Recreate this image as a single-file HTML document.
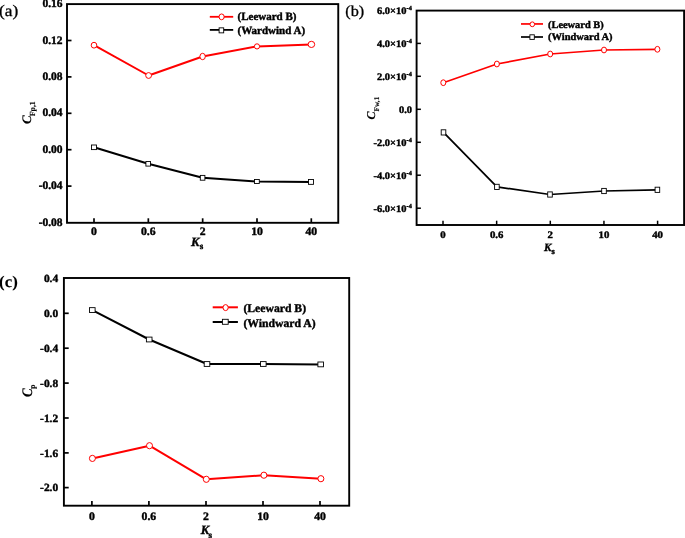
<!DOCTYPE html>
<html><head><meta charset="utf-8"><style>
html,body{margin:0;padding:0;background:#fff;}
svg{display:block;font-family:"Liberation Serif", serif;will-change:transform;text-rendering:geometricPrecision;}
</style></head><body>
<svg width="685" height="538" viewBox="0 0 685 538" shape-rendering="auto">
<rect width="685" height="538" fill="#fff"/>
<rect x="67" y="4.1" width="271.25" height="218.70000000000002" fill="none" stroke="#000" stroke-width="1.9"/>
<text x="62.6" y="7.1" font-size="11.5" text-anchor="end" font-weight="bold" font-style="normal"  stroke="#000" stroke-width="0.4">0.16</text>
<line x1="67" y1="40.5" x2="71.5" y2="40.5" stroke="#000" stroke-width="1.7"/>
<text x="62.6" y="43.5" font-size="11.5" text-anchor="end" font-weight="bold" font-style="normal"  stroke="#000" stroke-width="0.4">0.12</text>
<line x1="67" y1="76.9" x2="71.5" y2="76.9" stroke="#000" stroke-width="1.7"/>
<text x="62.6" y="79.9" font-size="11.5" text-anchor="end" font-weight="bold" font-style="normal"  stroke="#000" stroke-width="0.4">0.08</text>
<line x1="67" y1="113.3" x2="71.5" y2="113.3" stroke="#000" stroke-width="1.7"/>
<text x="62.6" y="116.3" font-size="11.5" text-anchor="end" font-weight="bold" font-style="normal"  stroke="#000" stroke-width="0.4">0.04</text>
<line x1="67" y1="149.7" x2="71.5" y2="149.7" stroke="#000" stroke-width="1.7"/>
<text x="62.6" y="152.7" font-size="11.5" text-anchor="end" font-weight="bold" font-style="normal"  stroke="#000" stroke-width="0.4">0.00</text>
<line x1="67" y1="186.1" x2="71.5" y2="186.1" stroke="#000" stroke-width="1.7"/>
<text x="62.6" y="189.1" font-size="11.5" text-anchor="end" font-weight="bold" font-style="normal"  stroke="#000" stroke-width="0.4">-0.04</text>
<text x="62.6" y="225.5" font-size="11.5" text-anchor="end" font-weight="bold" font-style="normal"  stroke="#000" stroke-width="0.4">-0.08</text>
<line x1="94" y1="222.8" x2="94" y2="218.3" stroke="#000" stroke-width="1.7"/>
<text transform="translate(94,234.9) scale(1.02,1.0)" x="0" y="0" font-size="11.5" text-anchor="middle" font-weight="bold" font-style="normal"  stroke="#000" stroke-width="0.4">0</text>
<line x1="148.33" y1="222.8" x2="148.33" y2="218.3" stroke="#000" stroke-width="1.7"/>
<text transform="translate(148.33,234.9) scale(1.02,1.0)" x="0" y="0" font-size="11.5" text-anchor="middle" font-weight="bold" font-style="normal"  stroke="#000" stroke-width="0.4">0.6</text>
<line x1="202.66" y1="222.8" x2="202.66" y2="218.3" stroke="#000" stroke-width="1.7"/>
<text transform="translate(202.66,234.9) scale(1.02,1.0)" x="0" y="0" font-size="11.5" text-anchor="middle" font-weight="bold" font-style="normal"  stroke="#000" stroke-width="0.4">2</text>
<line x1="257" y1="222.8" x2="257" y2="218.3" stroke="#000" stroke-width="1.7"/>
<text transform="translate(257,234.9) scale(1.02,1.0)" x="0" y="0" font-size="11.5" text-anchor="middle" font-weight="bold" font-style="normal"  stroke="#000" stroke-width="0.4">10</text>
<line x1="311.3" y1="222.8" x2="311.3" y2="218.3" stroke="#000" stroke-width="1.7"/>
<text transform="translate(311.3,234.9) scale(1.02,1.0)" x="0" y="0" font-size="11.5" text-anchor="middle" font-weight="bold" font-style="normal"  stroke="#000" stroke-width="0.4">40</text>
<polyline points="94,45.2 148.6,75.5 202.6,56.5 257,46.4 311.4,44.4" fill="none" stroke="#ff0000" stroke-width="2" stroke-linejoin="round"/>
<polyline points="94,147.3 148.2,163.8 202.6,177.8 256.9,181.5 311,181.9" fill="none" stroke="#000" stroke-width="2" stroke-linejoin="round"/>
<ellipse cx="94" cy="45.2" rx="2.8" ry="2.9" fill="#fff" stroke="#f00" stroke-width="1.0"/>
<ellipse cx="148.6" cy="75.5" rx="2.9" ry="2.9" fill="#fff" stroke="#f00" stroke-width="1.0"/>
<ellipse cx="202.6" cy="56.5" rx="2.7" ry="3.2" fill="#fff" stroke="#f00" stroke-width="1.0"/>
<ellipse cx="257" cy="46.4" rx="2.6" ry="2.6" fill="#fff" stroke="#f00" stroke-width="1.0"/>
<ellipse cx="311.4" cy="44.4" rx="3.3" ry="3.1" fill="#fff" stroke="#f00" stroke-width="1.0"/>
<rect x="91.5" y="145.0" width="5.0" height="4.6" fill="#fff" stroke="#000" stroke-width="0.9"/>
<rect x="145.89999999999998" y="161.5" width="4.6" height="4.6" fill="#fff" stroke="#000" stroke-width="0.9"/>
<rect x="200.29999999999998" y="175.4" width="4.6" height="4.8" fill="#fff" stroke="#000" stroke-width="0.9"/>
<rect x="254.49999999999997" y="179.5" width="4.8" height="4.0" fill="#fff" stroke="#000" stroke-width="0.9"/>
<rect x="308.5" y="179.45000000000002" width="5.0" height="4.9" fill="#fff" stroke="#000" stroke-width="0.9"/>
<line x1="209.8" y1="16.8" x2="233.2" y2="16.8" stroke="#ff0000" stroke-width="1.8"/>
<ellipse cx="221.6" cy="16.85" rx="2.6" ry="2.9" fill="#fff" stroke="#f00" stroke-width="1.0"/>
<line x1="209.8" y1="29.9" x2="233.2" y2="29.9" stroke="#000" stroke-width="1.8"/>
<rect x="219.1" y="27.85" width="4.6" height="5" fill="#fff" stroke="#000" stroke-width="0.9"/>
<text x="237.5" y="20.1" font-size="11" text-anchor="start" font-weight="bold" font-style="normal"  stroke="#000" stroke-width="0.4">(Leeward B)</text>
<text x="237.5" y="34.1" font-size="11" text-anchor="start" font-weight="bold" font-style="normal"  stroke="#000" stroke-width="0.4">(Wardwind A)</text>
<text x="191.0" y="245.5" font-size="12.8" text-anchor="start" font-weight="bold" font-style="italic"  stroke="#000" stroke-width="0.4">K</text>
<text x="199.7" y="248.6" font-size="9" text-anchor="start" font-weight="bold" font-style="normal"  stroke="#000" stroke-width="0.4">s</text>
<g transform="translate(31.0,124) rotate(-90)">
<text x="0" y="0" font-size="13" text-anchor="start" font-weight="bold" font-style="italic" stroke="#000" stroke-width="0.15">C</text>
<text x="7.8" y="3.8" font-size="7.8" text-anchor="start" font-weight="bold" font-style="normal" stroke="#000" stroke-width="0.12">Fp,1</text>
</g>
<text transform="translate(-0.9,16.3) scale(1.07,1.0)" x="0" y="0" font-size="16.2" text-anchor="start" font-weight="normal" font-style="normal" stroke="#000" stroke-width="0.3">(a)</text>
<rect x="416.6" y="10.6" width="267.5" height="214.4" fill="none" stroke="#000" stroke-width="1.9"/>
<text transform="translate(406.4,14.100000000000001) scale(1.045,1.0)" x="0" y="0" font-size="10" text-anchor="end" font-weight="bold" font-style="normal"  stroke="#000" stroke-width="0.4">6.0×10</text>
<text x="406.6" y="9.8" font-size="6.2" text-anchor="start" font-weight="bold" font-style="normal"  stroke="#000" stroke-width="0.4">-4</text>
<line x1="416.6" y1="43.4" x2="420.90000000000003" y2="43.4" stroke="#000" stroke-width="1.5"/>
<text transform="translate(406.4,47.1) scale(1.045,1.0)" x="0" y="0" font-size="10" text-anchor="end" font-weight="bold" font-style="normal"  stroke="#000" stroke-width="0.4">4.0×10</text>
<text x="406.6" y="42.8" font-size="6.2" text-anchor="start" font-weight="bold" font-style="normal"  stroke="#000" stroke-width="0.4">-4</text>
<line x1="416.6" y1="76.3" x2="420.90000000000003" y2="76.3" stroke="#000" stroke-width="1.5"/>
<text transform="translate(406.4,80.0) scale(1.045,1.0)" x="0" y="0" font-size="10" text-anchor="end" font-weight="bold" font-style="normal"  stroke="#000" stroke-width="0.4">2.0×10</text>
<text x="406.6" y="75.7" font-size="6.2" text-anchor="start" font-weight="bold" font-style="normal"  stroke="#000" stroke-width="0.4">-4</text>
<line x1="416.6" y1="109.3" x2="420.90000000000003" y2="109.3" stroke="#000" stroke-width="1.5"/>
<text transform="translate(412,112.7) scale(1.04,1.0)" x="0" y="0" font-size="10" text-anchor="end" font-weight="bold" font-style="normal"  stroke="#000" stroke-width="0.4">0.0</text>
<line x1="416.6" y1="142.3" x2="420.90000000000003" y2="142.3" stroke="#000" stroke-width="1.5"/>
<text transform="translate(406.4,146.0) scale(1.045,1.0)" x="0" y="0" font-size="10" text-anchor="end" font-weight="bold" font-style="normal"  stroke="#000" stroke-width="0.4">-2.0×10</text>
<text x="406.6" y="141.70000000000002" font-size="6.2" text-anchor="start" font-weight="bold" font-style="normal"  stroke="#000" stroke-width="0.4">-4</text>
<line x1="416.6" y1="175.2" x2="420.90000000000003" y2="175.2" stroke="#000" stroke-width="1.5"/>
<text transform="translate(406.4,178.89999999999998) scale(1.045,1.0)" x="0" y="0" font-size="10" text-anchor="end" font-weight="bold" font-style="normal"  stroke="#000" stroke-width="0.4">-4.0×10</text>
<text x="406.6" y="174.6" font-size="6.2" text-anchor="start" font-weight="bold" font-style="normal"  stroke="#000" stroke-width="0.4">-4</text>
<line x1="416.6" y1="208.2" x2="420.90000000000003" y2="208.2" stroke="#000" stroke-width="1.5"/>
<text transform="translate(406.4,211.89999999999998) scale(1.045,1.0)" x="0" y="0" font-size="10" text-anchor="end" font-weight="bold" font-style="normal"  stroke="#000" stroke-width="0.4">-6.0×10</text>
<text x="406.6" y="207.6" font-size="6.2" text-anchor="start" font-weight="bold" font-style="normal"  stroke="#000" stroke-width="0.4">-4</text>
<line x1="443" y1="225" x2="443" y2="220.7" stroke="#000" stroke-width="1.5"/>
<text transform="translate(443,237.8) scale(1.08,1.0)" x="0" y="0" font-size="10" text-anchor="middle" font-weight="bold" font-style="normal"  stroke="#000" stroke-width="0.4">0</text>
<line x1="496.65" y1="225" x2="496.65" y2="220.7" stroke="#000" stroke-width="1.5"/>
<text transform="translate(496.65,237.8) scale(1.08,1.0)" x="0" y="0" font-size="10" text-anchor="middle" font-weight="bold" font-style="normal"  stroke="#000" stroke-width="0.4">0.6</text>
<line x1="550.3" y1="225" x2="550.3" y2="220.7" stroke="#000" stroke-width="1.5"/>
<text transform="translate(550.3,237.8) scale(1.08,1.0)" x="0" y="0" font-size="10" text-anchor="middle" font-weight="bold" font-style="normal"  stroke="#000" stroke-width="0.4">2</text>
<line x1="603.95" y1="225" x2="603.95" y2="220.7" stroke="#000" stroke-width="1.5"/>
<text transform="translate(603.95,237.8) scale(1.08,1.0)" x="0" y="0" font-size="10" text-anchor="middle" font-weight="bold" font-style="normal"  stroke="#000" stroke-width="0.4">10</text>
<line x1="657.6" y1="225" x2="657.6" y2="220.7" stroke="#000" stroke-width="1.5"/>
<text transform="translate(657.6,237.8) scale(1.08,1.0)" x="0" y="0" font-size="10" text-anchor="middle" font-weight="bold" font-style="normal"  stroke="#000" stroke-width="0.4">40</text>
<polyline points="443.3,82.7 496.9,64 550.2,54 604,50 657.4,49.3" fill="none" stroke="#ff0000" stroke-width="1.7" stroke-linejoin="round"/>
<polyline points="443.5,132.4 496.9,186.9 550,194.5 604,191 657.4,189.8" fill="none" stroke="#000" stroke-width="1.75" stroke-linejoin="round"/>
<ellipse cx="443.3" cy="82.7" rx="2.5" ry="2.9" fill="#fff" stroke="#f00" stroke-width="1.0"/>
<ellipse cx="496.9" cy="64" rx="2.5" ry="2.9" fill="#fff" stroke="#f00" stroke-width="1.0"/>
<ellipse cx="550.2" cy="54" rx="2.5" ry="2.9" fill="#fff" stroke="#f00" stroke-width="1.0"/>
<ellipse cx="604" cy="50" rx="2.5" ry="2.9" fill="#fff" stroke="#f00" stroke-width="1.0"/>
<ellipse cx="657.4" cy="49.3" rx="2.5" ry="2.9" fill="#fff" stroke="#f00" stroke-width="1.0"/>
<rect x="441.2" y="129.8" width="4.6" height="5.2" fill="#fff" stroke="#000" stroke-width="0.9"/>
<rect x="494.59999999999997" y="184.3" width="4.6" height="5.2" fill="#fff" stroke="#000" stroke-width="0.9"/>
<rect x="547.7" y="191.9" width="4.6" height="5.2" fill="#fff" stroke="#000" stroke-width="0.9"/>
<rect x="601.7" y="188.4" width="4.6" height="5.2" fill="#fff" stroke="#000" stroke-width="0.9"/>
<rect x="655.1" y="187.20000000000002" width="4.6" height="5.2" fill="#fff" stroke="#000" stroke-width="0.9"/>
<line x1="521" y1="23.95" x2="543" y2="23.95" stroke="#ff0000" stroke-width="1.7"/>
<ellipse cx="532.3" cy="24.3" rx="2.3" ry="2.4" fill="#fff" stroke="#f00" stroke-width="1.0"/>
<line x1="521" y1="37.0" x2="543" y2="37.0" stroke="#000" stroke-width="1.7"/>
<rect x="529.9" y="34.800000000000004" width="4.4" height="4.6" fill="#fff" stroke="#000" stroke-width="0.9"/>
<text transform="translate(548,27.8) scale(1.02,1.0)" x="0" y="0" font-size="10.2" text-anchor="start" font-weight="bold" font-style="normal"  stroke="#000" stroke-width="0.4">(Leeward B)</text>
<text transform="translate(548,40.4) scale(1.025,1.0)" x="0" y="0" font-size="10.2" text-anchor="start" font-weight="bold" font-style="normal"  stroke="#000" stroke-width="0.4">(Windward A)</text>
<text x="544.1" y="250.5" font-size="11.2" text-anchor="start" font-weight="bold" font-style="italic"  stroke="#000" stroke-width="0.4">K</text>
<text x="551.5" y="253.8" font-size="8.4" text-anchor="start" font-weight="bold" font-style="normal"  stroke="#000" stroke-width="0.4">s</text>
<g transform="translate(375.3,119.5) rotate(-90)">
<text x="0" y="0" font-size="12" text-anchor="start" font-weight="bold" font-style="italic" stroke="#000" stroke-width="0.15">C</text>
<text x="8" y="3.8" font-size="7.3" text-anchor="start" font-weight="bold" font-style="normal" stroke="#000" stroke-width="0.12">Fw,1</text>
</g>
<text transform="translate(345.3,16.0) scale(1.06,1.0)" x="0" y="0" font-size="15.3" text-anchor="start" font-weight="normal" font-style="normal" stroke="#000" stroke-width="0.3">(b)</text>
<rect x="63.9" y="278" width="285.3" height="227.7" fill="none" stroke="#000" stroke-width="1.9"/>
<text transform="translate(58.2,281.7) scale(1.04,1.0)" x="0" y="0" font-size="11" text-anchor="end" font-weight="bold" font-style="normal"  stroke="#000" stroke-width="0.4">0.4</text>
<line x1="63.9" y1="313.3" x2="68.7" y2="313.3" stroke="#000" stroke-width="1.7"/>
<text transform="translate(58.2,317.0) scale(1.04,1.0)" x="0" y="0" font-size="11" text-anchor="end" font-weight="bold" font-style="normal"  stroke="#000" stroke-width="0.4">0.0</text>
<line x1="63.9" y1="348.2" x2="68.7" y2="348.2" stroke="#000" stroke-width="1.7"/>
<text transform="translate(58.2,351.9) scale(1.04,1.0)" x="0" y="0" font-size="11" text-anchor="end" font-weight="bold" font-style="normal"  stroke="#000" stroke-width="0.4">-0.4</text>
<line x1="63.9" y1="383.1" x2="68.7" y2="383.1" stroke="#000" stroke-width="1.7"/>
<text transform="translate(58.2,386.8) scale(1.04,1.0)" x="0" y="0" font-size="11" text-anchor="end" font-weight="bold" font-style="normal"  stroke="#000" stroke-width="0.4">-0.8</text>
<line x1="63.9" y1="418" x2="68.7" y2="418" stroke="#000" stroke-width="1.7"/>
<text transform="translate(58.2,421.7) scale(1.04,1.0)" x="0" y="0" font-size="11" text-anchor="end" font-weight="bold" font-style="normal"  stroke="#000" stroke-width="0.4">-1.2</text>
<line x1="63.9" y1="452.9" x2="68.7" y2="452.9" stroke="#000" stroke-width="1.7"/>
<text transform="translate(58.2,456.59999999999997) scale(1.04,1.0)" x="0" y="0" font-size="11" text-anchor="end" font-weight="bold" font-style="normal"  stroke="#000" stroke-width="0.4">-1.6</text>
<line x1="63.9" y1="487.6" x2="68.7" y2="487.6" stroke="#000" stroke-width="1.7"/>
<text transform="translate(58.2,491.3) scale(1.04,1.0)" x="0" y="0" font-size="11" text-anchor="end" font-weight="bold" font-style="normal"  stroke="#000" stroke-width="0.4">-2.0</text>
<line x1="91.9" y1="505.7" x2="91.9" y2="500.9" stroke="#000" stroke-width="1.7"/>
<text transform="translate(91.9,519.7) scale(1.02,1.0)" x="0" y="0" font-size="11.5" text-anchor="middle" font-weight="bold" font-style="normal"  stroke="#000" stroke-width="0.4">0</text>
<line x1="148.9" y1="505.7" x2="148.9" y2="500.9" stroke="#000" stroke-width="1.7"/>
<text transform="translate(148.9,519.7) scale(1.02,1.0)" x="0" y="0" font-size="11.5" text-anchor="middle" font-weight="bold" font-style="normal"  stroke="#000" stroke-width="0.4">0.6</text>
<line x1="206" y1="505.7" x2="206" y2="500.9" stroke="#000" stroke-width="1.7"/>
<text transform="translate(206,519.7) scale(1.02,1.0)" x="0" y="0" font-size="11.5" text-anchor="middle" font-weight="bold" font-style="normal"  stroke="#000" stroke-width="0.4">2</text>
<line x1="263" y1="505.7" x2="263" y2="500.9" stroke="#000" stroke-width="1.7"/>
<text transform="translate(263,519.7) scale(1.02,1.0)" x="0" y="0" font-size="11.5" text-anchor="middle" font-weight="bold" font-style="normal"  stroke="#000" stroke-width="0.4">10</text>
<line x1="320" y1="505.7" x2="320" y2="500.9" stroke="#000" stroke-width="1.7"/>
<text transform="translate(320,519.7) scale(1.02,1.0)" x="0" y="0" font-size="11.5" text-anchor="middle" font-weight="bold" font-style="normal"  stroke="#000" stroke-width="0.4">40</text>
<polyline points="92.3,310.05 149.2,339.5 207,364 263.3,364 320.7,364.4" fill="none" stroke="#000" stroke-width="2" stroke-linejoin="round"/>
<polyline points="92.4,458.4 149.5,445.7 206.3,479.3 263.9,475.2 320.9,478.7" fill="none" stroke="#ff0000" stroke-width="2" stroke-linejoin="round"/>
<rect x="89.5" y="307.65000000000003" width="5.6" height="4.8" fill="#fff" stroke="#000" stroke-width="0.9"/>
<rect x="146.39999999999998" y="337.1" width="5.6" height="4.8" fill="#fff" stroke="#000" stroke-width="0.9"/>
<rect x="204.2" y="361.6" width="5.6" height="4.8" fill="#fff" stroke="#000" stroke-width="0.9"/>
<rect x="260.5" y="361.6" width="5.6" height="4.8" fill="#fff" stroke="#000" stroke-width="0.9"/>
<rect x="317.9" y="362.0" width="5.6" height="4.8" fill="#fff" stroke="#000" stroke-width="0.9"/>
<ellipse cx="92.4" cy="458.4" rx="3.0" ry="3.1" fill="#fff" stroke="#f00" stroke-width="1.0"/>
<ellipse cx="149.5" cy="445.7" rx="3.0" ry="3.1" fill="#fff" stroke="#f00" stroke-width="1.0"/>
<ellipse cx="206.3" cy="479.3" rx="3.0" ry="3.1" fill="#fff" stroke="#f00" stroke-width="1.0"/>
<ellipse cx="263.9" cy="475.2" rx="3.0" ry="3.1" fill="#fff" stroke="#f00" stroke-width="1.0"/>
<ellipse cx="320.9" cy="478.7" rx="3.0" ry="3.1" fill="#fff" stroke="#f00" stroke-width="1.0"/>
<line x1="212.7" y1="307.3" x2="237.9" y2="307.3" stroke="#ff0000" stroke-width="2"/>
<ellipse cx="225.6" cy="307.6" rx="2.6" ry="3.0" fill="#fff" stroke="#f00" stroke-width="1.0"/>
<line x1="212.7" y1="322" x2="237.9" y2="322" stroke="#000" stroke-width="2"/>
<rect x="222.4" y="319.3" width="5.8" height="5.0" fill="#fff" stroke="#000" stroke-width="0.9"/>
<text x="243.4" y="311.5" font-size="11.7" text-anchor="start" font-weight="bold" font-style="normal"  stroke="#000" stroke-width="0.4">(Leeward B)</text>
<text x="243.4" y="326.5" font-size="11.7" text-anchor="start" font-weight="bold" font-style="normal"  stroke="#000" stroke-width="0.4">(Windward A)</text>
<text x="200.7" y="534.2" font-size="12.8" text-anchor="start" font-weight="bold" font-style="italic"  stroke="#000" stroke-width="0.4">K</text>
<text x="208.4" y="538.3" font-size="9" text-anchor="start" font-weight="bold" font-style="normal"  stroke="#000" stroke-width="0.4">s</text>
<g transform="translate(32.05,397) rotate(-90)">
<text transform="translate(0,0) scale(1.0,1.12)" x="0" y="0" font-size="13" text-anchor="start" font-weight="bold" font-style="italic" stroke="#000" stroke-width="0.15">C</text>
<text x="7.9" y="2.6" font-size="8" text-anchor="start" font-weight="bold" font-style="normal" stroke="#000" stroke-width="0.15">p</text>
</g>
<text transform="translate(-0.9,286.9) scale(1.03,1.0)" x="0" y="0" font-size="16.3" text-anchor="start" font-weight="bold" font-style="normal" stroke="#000" stroke-width="0.1">(c)</text>
</svg>
</body></html>
